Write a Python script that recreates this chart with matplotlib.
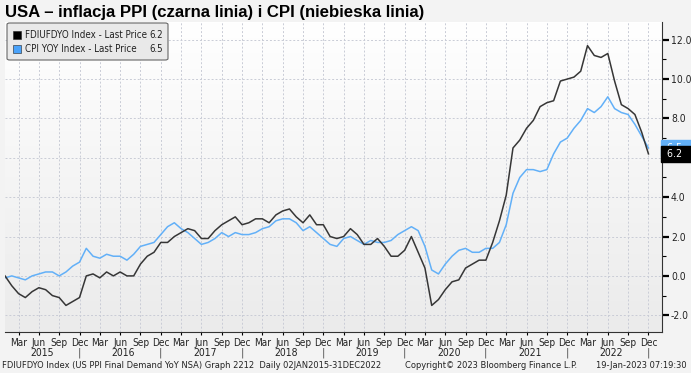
import numpy as np
import matplotlib
matplotlib.use('Agg')
import matplotlib.pyplot as plt
from matplotlib import font_manager
from matplotlib.patches import FancyBboxPatch, Rectangle
from matplotlib.transforms import blended_transform_factory

# monthly YoY values, Jan 2015 .. Dec 2022
ppi = [0.0, -0.5, -0.9, -1.1, -0.8, -0.6, -0.7, -1.0, -1.1, -1.5, -1.3, -1.1,
       0.0, 0.1, -0.1, 0.2, 0.0, 0.2, 0.0, 0.0, 0.6, 1.0, 1.2, 1.7,
       1.7, 2.0, 2.2, 2.4, 2.3, 1.9, 1.9, 2.3, 2.6, 2.8, 3.0, 2.6,
       2.7, 2.9, 2.9, 2.7, 3.1, 3.3, 3.4, 3.0, 2.7, 3.1, 2.6, 2.6,
       2.0, 1.9, 2.0, 2.4, 2.1, 1.6, 1.6, 1.9, 1.5, 1.0, 1.0, 1.3,
       2.0, 1.2, 0.4, -1.5, -1.2, -0.7, -0.3, -0.2, 0.4, 0.6, 0.8, 0.8,
       1.7, 2.8, 4.1, 6.5, 6.9, 7.5, 7.9, 8.6, 8.8, 8.9, 9.9, 10.0,
       10.1, 10.4, 11.7, 11.2, 11.1, 11.3, 9.9, 8.7, 8.5, 8.2, 7.3, 6.2]
cpi = [-0.1, 0.0, -0.1, -0.2, 0.0, 0.1, 0.2, 0.2, 0.0, 0.2, 0.5, 0.7,
       1.4, 1.0, 0.9, 1.1, 1.0, 1.0, 0.8, 1.1, 1.5, 1.6, 1.7, 2.1,
       2.5, 2.7, 2.4, 2.2, 1.9, 1.6, 1.7, 1.9, 2.2, 2.0, 2.2, 2.1,
       2.1, 2.2, 2.4, 2.5, 2.8, 2.9, 2.9, 2.7, 2.3, 2.5, 2.2, 1.9,
       1.6, 1.5, 1.9, 2.0, 1.8, 1.6, 1.8, 1.7, 1.7, 1.8, 2.1, 2.3,
       2.5, 2.3, 1.5, 0.3, 0.1, 0.6, 1.0, 1.3, 1.4, 1.2, 1.2, 1.4,
       1.4, 1.7, 2.6, 4.2, 5.0, 5.4, 5.4, 5.3, 5.4, 6.2, 6.8, 7.0,
       7.5, 7.9, 8.5, 8.3, 8.6, 9.1, 8.5, 8.3, 8.2, 7.7, 7.1, 6.5]
years = list(range(2015, 2023))
quarter_months = ['Mar', 'Jun', 'Sep', 'Dec']
yticks = [-2, 0, 2, 4, 6, 8, 10, 12]

title = 'USA – inflacja PPI (czarna linia) i CPI (niebieska linia)'
ppi_name = 'FDIUFDYO Index - Last Price'
cpi_name = 'CPI YOY Index - Last Price'
footer_left = 'FDIUFDYO Index (US PPI Final Demand YoY NSA) Graph 2212  Daily 02JAN2015-31DEC2022'
footer_mid = 'Copyright\u00a9 2023 Bloomberg Finance L.P.'
footer_right = '19-Jan-2023 07:19:30'

PPI_COLOR = '#363636'
CPI_COLOR = '#62b0f8'

names = {f.name for f in font_manager.fontManager.ttflist}
if 'Liberation Sans Narrow' in names:
    narrow = dict(family='Liberation Sans Narrow')
else:
    narrow = dict(family='DejaVu Sans', stretch='condensed')

W, H = 691, 373
fig = plt.figure(figsize=(W / 100, H / 100), dpi=100, facecolor='#f3f3f3')
ax = fig.add_axes([5 / W, 1 - 332 / H, 657 / W, 310 / H])

# background gradient in the plot area
grad = np.linspace(1.0, 0.0, 256).reshape(-1, 1)
ax.imshow(grad, extent=[0, 1, 0, 1], transform=ax.transAxes, aspect='auto',
          cmap=matplotlib.colors.LinearSegmentedColormap.from_list('bg', ['#ebebeb', '#ffffff']),
          zorder=0)

x = np.arange(len(ppi))
ax.plot(x, cpi, color=CPI_COLOR, lw=1.1, zorder=3)
ax.plot(x, ppi, color=PPI_COLOR, lw=1.1, zorder=4)

ax.set_xlim(0, 97)
ax.set_ylim(-2.85, 12.9)

# x axis: quarters
qticks = [m for m in x if m % 3 == 2]
ax.set_xticks(qticks)
ax.set_xticklabels([quarter_months[(m % 12) // 3] for m in qticks], fontsize=7.2, color='#222222', **narrow)
ax.tick_params(axis='x', length=2, pad=2)

ax.yaxis.tick_right()
ax.set_yticks(yticks)
ax.set_yticklabels(['%.1f' % v for v in yticks], fontsize=7.4, color='#222222', **narrow)
ax.set_yticks(np.arange(-1, 13, 2), minor=True)
ax.tick_params(axis='y', which='major', direction='out', length=5, width=1.6, pad=1.5)
ax.tick_params(axis='y', which='minor', direction='out', length=3, width=0.8)

ax.grid(True, which='major', color='#c9ccd6', linestyle=(0, (2, 2)), lw=0.7)
for s in ['left', 'top']:
    ax.spines[s].set_visible(False)
ax.spines['right'].set_color('#333333')
ax.spines['bottom'].set_color('#333333')

# year labels and separators
tr = blended_transform_factory(ax.transData, ax.transAxes)
for i, yr in enumerate(years):
    ax.text(12 * i + 5.5, -0.068, str(yr), transform=tr, ha='center', va='center',
            fontsize=7.5, color='#222222', **narrow)
    ax.text(12 * i + 11, -0.068, '|', transform=tr, ha='center', va='center',
            fontsize=8, color='#555555', **narrow)

# last price tags on the right
trr = blended_transform_factory(ax.transAxes, ax.transData)
ax.text(1.003, cpi[-1], ' %.1f  ' % cpi[-1], transform=trr, ha='left', va='center',
        fontsize=7.6, color='white', clip_on=False, zorder=5, **narrow,
        bbox=dict(boxstyle='square,pad=0.25', fc=CPI_COLOR, ec=CPI_COLOR))
ax.text(1.003, ppi[-1], ' %.1f  ' % ppi[-1], transform=trr, ha='left', va='center',
        fontsize=7.6, color='white', clip_on=False, zorder=6, **narrow,
        bbox=dict(boxstyle='square,pad=0.25', fc='black', ec='black'))

# title
fig.text(5 / W, 1 - 12 / H, title, fontsize=12.1, fontweight='bold',
         family='Liberation Sans', ha='left', va='center', color='black')

# legend box
fig.patches.append(FancyBboxPatch((7 / W, 1 - 60 / H), 161 / W, 37 / H,
                                  boxstyle='round,pad=0,rounding_size=0.004',
                                  transform=fig.transFigure, fc='#e9e9e9', ec='#666666', lw=0.8))
rows = [(ppi_name, ppi[-1], 'black', 35), (cpi_name, cpi[-1], '#4aa3fb', 49)]
for name, val, col, ypx in rows:
    fig.patches.append(Rectangle((13 / W, 1 - (ypx + 4) / H), 8 / W, 8 / H,
                                 transform=fig.transFigure, fc=col, ec='#222222', lw=0.4))
    fig.text(25 / W, 1 - ypx / H, name, fontsize=7.0, ha='left', va='center', color='#222222', **narrow)
    fig.text(163 / W, 1 - ypx / H, '%.1f' % val, fontsize=7.0, ha='right', va='center', color='#222222', **narrow)

# footer
fig.text(2 / W, 1 - 366 / H, footer_left, fontsize=6.7, ha='left', va='center', color='#222222', **narrow)
fig.text(405 / W, 1 - 366 / H, footer_mid, fontsize=6.7, ha='left', va='center', color='#222222', **narrow)
fig.text(687 / W, 1 - 366 / H, footer_right, fontsize=6.7, ha='right', va='center', color='#222222', **narrow)

fig.savefig('out.png', dpi=100, facecolor=fig.get_facecolor())
